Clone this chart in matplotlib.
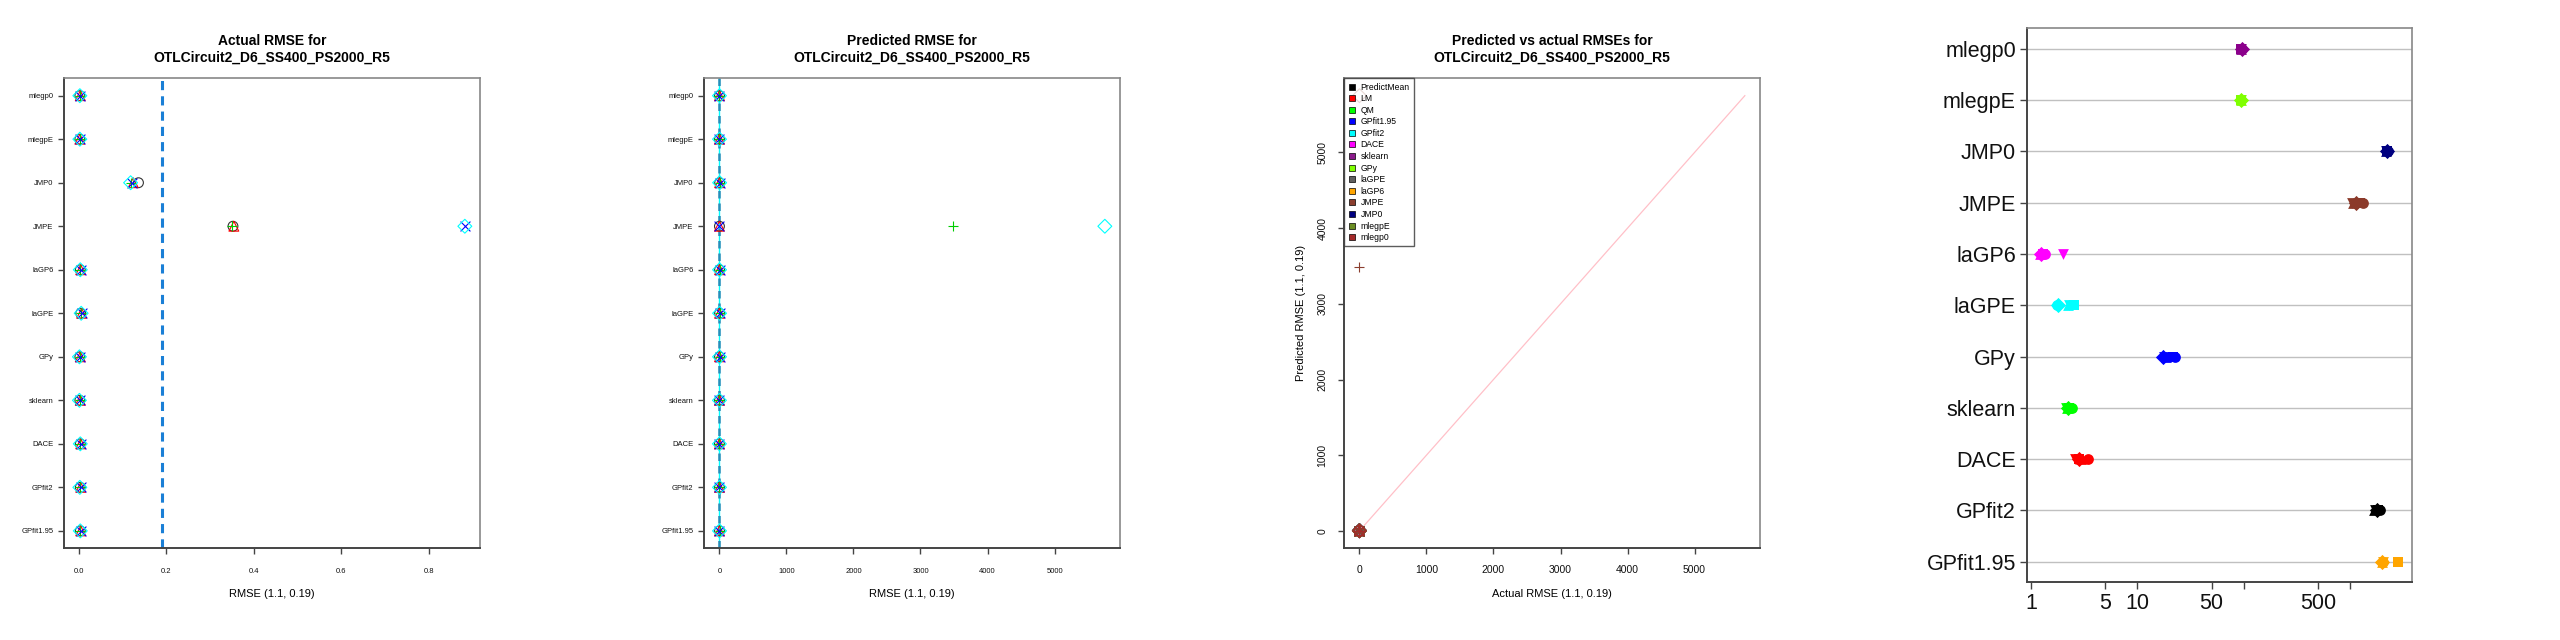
import matplotlib
matplotlib.use("Agg")
import matplotlib.pyplot as plt
from matplotlib.lines import Line2D
import numpy as np

plt.rcParams["font.family"] = ["Liberation Sans", "DejaVu Sans"]

# methods, bottom row first (y = 1..11)
methods = ["GPfit1.95", "GPfit2", "DACE", "sklearn", "GPy", "laGPE",
           "laGP6", "JMPE", "JMP0", "mlegpE", "mlegp0"]

# 5 replicates per method
actual_rmse = np.array([
    [0.003, 0.004, 0.002, 0.005, 0.003],   # GPfit1.95
    [0.003, 0.004, 0.003, 0.004, 0.002],   # GPfit2
    [0.003, 0.004, 0.002, 0.004, 0.003],   # DACE
    [0.002, 0.003, 0.002, 0.003, 0.001],   # sklearn
    [0.002, 0.003, 0.002, 0.003, 0.001],   # GPy
    [0.004, 0.006, 0.005, 0.006, 0.005],   # laGPE
    [0.003, 0.004, 0.003, 0.004, 0.003],   # laGP6
    [0.352, 0.354, 0.350, 0.882, 0.882],   # JMPE
    [0.136, 0.124, 0.118, 0.122, 0.118],   # JMP0
    [0.002, 0.002, 0.003, 0.002, 0.002],   # mlegpE
    [0.002, 0.003, 0.003, 0.002, 0.002],   # mlegp0
])

pred_rmse = np.array([
    [2.1, 1.8, 2.5, 1.9, 2.2],
    [1.5, 2.0, 1.7, 1.6, 1.9],
    [0.8, 1.2, 0.9, 1.1, 1.0],
    [1.3, 1.1, 1.4, 1.2, 1.0],
    [2.4, 2.0, 2.2, 2.6, 2.3],
    [3.0, 2.8, 3.3, 2.9, 3.1],
    [2.7, 3.2, 2.9, 3.0, 2.6],
    [1.2, 0.9, 3492.0, 1.1, 5750.0],
    [4.1, 3.8, 4.4, 3.9, 4.0],
    [1.6, 1.4, 1.7, 1.5, 1.8],
    [1.9, 1.7, 2.0, 1.8, 1.6],
])

run_time = np.array([
    [1990, 2050, 2860, 2060, 2000],
    [1700, 1920, 1850, 1720, 1780],
    [2.95, 3.46, 2.80, 2.60, 2.85],
    [2.17, 2.41, 2.30, 2.15, 2.25],
    [18.5, 22.6, 21.5, 18.0, 17.5],
    [2.24, 1.74, 2.54, 2.30, 1.80],
    [1.22, 1.35, 1.30, 1.99, 1.25],
    [1080, 1340, 1250, 1050, 1150],
    [2200, 2260, 2220, 2180, 2240],
    [94, 95, 94, 95, 94],
    [95, 96, 95, 94, 96],
])

true_level = 0.19
dataset = "OTLCircuit2_D6_SS400_PS2000_R5"
axis_label = "RMSE (1.1, 0.19)"

# panel 3 legend
legend_names = ["PredictMean", "LM", "QM", "GPfit1.95", "GPfit2", "DACE", "sklearn",
                "GPy", "laGPE", "laGP6", "JMPE", "JMP0", "mlegpE", "mlegp0"]
legend_cols = ["black", "red", "#00ff00", "blue", "cyan", "magenta", "#8b1a8b",
               "#7fff00", "#5f5f5f", "orange", "#8b3e2f", "#000080", "#6b8e23", "#a52a2a"]
col3 = dict(zip(legend_names, legend_cols))

# panel 4 colours
col4 = {"mlegp0": "#8b008b", "mlegpE": "#7fff00", "JMP0": "#000080", "JMPE": "#8b3a2a",
        "laGP6": "magenta", "laGPE": "cyan", "GPy": "blue", "sklearn": "#00ff00",
        "DACE": "red", "GPfit2": "black", "GPfit1.95": "orange"}

rep_marks = ["o", "^", "+", "x", "D"]
rep_cols = ["#333333", "red", "#00cd00", "blue", "cyan"]
rep_marks4 = ["^", "o", "s", "v", "D"]

ypos = np.arange(1, len(methods) + 1)
spine_dark = "#444444"
spine_light = "#888888"


def r_range(vals):
    lo, hi = np.min(vals), np.max(vals)
    d = (hi - lo) * 0.04
    return lo - d, hi + d


def style_box(ax):
    for s in ["top", "right"]:
        ax.spines[s].set_color(spine_light)
        ax.spines[s].set_linewidth(1.2)
    for s in ["left", "bottom"]:
        ax.spines[s].set_color(spine_dark)
        ax.spines[s].set_linewidth(1.4)
    ax.tick_params(color=spine_dark, width=1.0, length=4, labelcolor="#111111")


def draw_pt(ax, x, y, m, c, s=50):
    if m in ["+", "x"]:
        ax.scatter(x, y, marker=m, color=c, s=s, linewidths=0.8, zorder=3)
    else:
        ax.scatter(x, y, marker=m, facecolors="none", edgecolors=c, s=s, linewidths=0.8, zorder=3)


def strip_panel(ax, values, title, xticks):
    for r in range(5):
        draw_pt(ax, values[:, r], ypos, rep_marks[r], rep_cols[r])
    ax.set_ylim(0.6, len(methods) + 0.4)
    ax.set_xlim(*r_range(values))
    ax.set_yticks(ypos)
    ax.set_yticklabels(methods, fontsize=5.5)
    ax.set_xticks(xticks)
    ax.tick_params(axis="x", labelsize=5.5, pad=10)
    ax.set_xlabel(axis_label, fontsize=8, labelpad=10)
    ax.set_title("%s\n%s" % (title, dataset), fontsize=10, fontweight="bold", pad=12)
    style_box(ax)


fig = plt.figure(figsize=(25.6, 6.4), dpi=100)

# panel 1: actual RMSE
ax1 = fig.add_axes([0.025, 0.1433, 0.1626, 0.7344])
strip_panel(ax1, actual_rmse, "Actual RMSE for", [0.0, 0.2, 0.4, 0.6, 0.8])
ax1.set_xticklabels(["0.0", "0.2", "0.4", "0.6", "0.8"])
ax1.axvline(true_level, color="#1a7fd6", lw=2.2, ls=(0, (3, 2)), zorder=2)

# panel 2: predicted RMSE
ax2 = fig.add_axes([0.275, 0.1433, 0.1626, 0.7344])
strip_panel(ax2, pred_rmse, "Predicted RMSE for", [0, 1000, 2000, 3000, 4000, 5000])
ax2.axvline(0, color="cyan", lw=1.0, zorder=2)
ax2.axvline(true_level, color="#2a8cb8", lw=1.8, ls=(0, (3, 2)), zorder=2)

# panel 3: predicted vs actual
ax3 = fig.add_axes([0.525, 0.1433, 0.1626, 0.7344])
all_vals = np.concatenate([actual_rmse.ravel(), pred_rmse.ravel()])
lo, hi = all_vals.min(), all_vals.max()
ax3.plot([lo, hi], [lo, hi], color="#ffc0c8", lw=0.9, zorder=1)
for i, name in enumerate(methods):
    for r in range(5):
        draw_pt(ax3, actual_rmse[i, r], pred_rmse[i, r], rep_marks[r], col3[name])
ax3.set_xlim(*r_range(all_vals))
ax3.set_ylim(*r_range(all_vals))
ticks3 = [0, 1000, 2000, 3000, 4000, 5000]
ax3.set_xticks(ticks3)
ax3.set_yticks(ticks3)
ax3.tick_params(axis="x", labelsize=7.5, pad=8)
ax3.tick_params(axis="y", labelsize=7.5, pad=8)
for lab in ax3.get_yticklabels():
    lab.set_rotation(90)
    lab.set_va("center")
ax3.set_xlabel("Actual " + axis_label, fontsize=8, labelpad=10)
ax3.set_ylabel("Predicted " + axis_label, fontsize=8, labelpad=8)
ax3.set_title("Predicted vs actual RMSEs for\n%s" % dataset, fontsize=10, fontweight="bold", pad=12)
style_box(ax3)
handles = [Line2D([], [], marker="s", ls="none", markerfacecolor=c, markeredgecolor="black",
                  markeredgewidth=0.5, markersize=4.5) for c in legend_cols]
leg = ax3.legend(handles, legend_names, loc="upper left", fontsize=6.2, frameon=True, fancybox=False,
                 borderaxespad=0, handlelength=0.8, handletextpad=0.6, labelspacing=0.3,
                 borderpad=0.5)
leg.get_frame().set_edgecolor("#333333")
leg.get_frame().set_linewidth(1.0)

# panel 4: times on log scale
ax4 = fig.add_axes([0.7918, 0.0902, 0.1504, 0.8656])
for y in ypos:
    ax4.axhline(y, color="#c0c0c0", lw=1.0, zorder=1)
for i, name in enumerate(methods):
    for r in range(5):
        ax4.scatter(run_time[i, r], ypos[i], marker=rep_marks4[r], color=col4[name],
                    s=60, linewidths=0, zorder=3)
ax4.set_xscale("log")
ax4.set_xlim(0.917, 3840)
ax4.set_ylim(0.6, len(methods) + 0.4)
ax4.set_yticks(ypos)
ax4.set_yticklabels(methods, fontsize=15.5)
ax4.set_xticks([1, 5, 10, 50, 100, 500, 1000])
ax4.set_xticklabels(["1", "5", "10", "50", "", "500", ""], fontsize=15.5)
ax4.xaxis.set_minor_locator(matplotlib.ticker.NullLocator())
style_box(ax4)
ax4.tick_params(length=5, pad=3)

fig.savefig("out.png", dpi=100)
